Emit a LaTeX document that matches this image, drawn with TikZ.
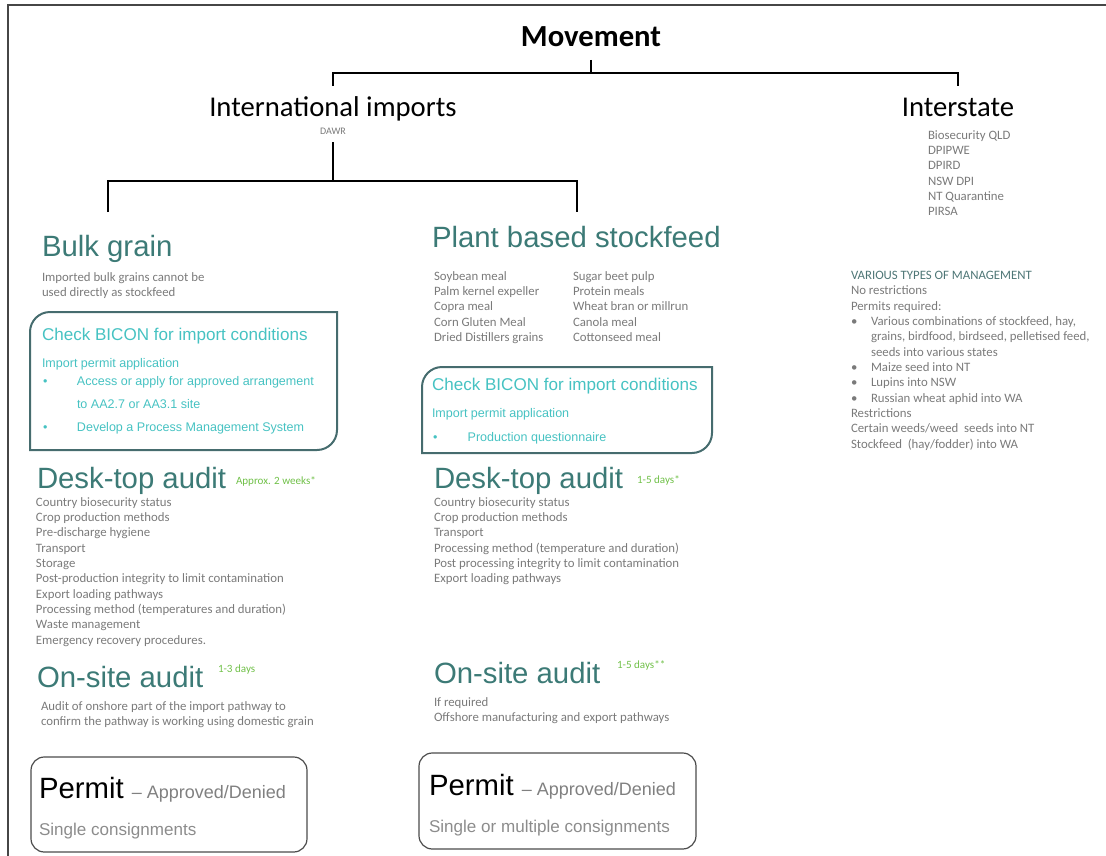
\documentclass[tikz,border=0pt]{standalone}
\usepackage{fontspec}
\setmainfont{Carlito}
\newfontfamily\arialfont{Liberation Sans}
\usetikzlibrary{positioning, fit}

\definecolor{headteal}{RGB}{60,122,118}
\definecolor{bicon}{RGB}{70,194,194}
\definecolor{boxteal}{RGB}{70,108,110}
\definecolor{greytext}{RGB}{122,122,122}
\definecolor{timegreen}{RGB}{112,192,72}
\definecolor{mgmtteal}{RGB}{78,118,118}
\definecolor{permitgrey}{RGB}{75,75,75}
\definecolor{framegrey}{RGB}{70,70,70}

\begin{document}
\begin{tikzpicture}[x=0.75pt, y=-0.75pt,
  every node/.style={inner sep=0pt, outer sep=0pt},
  bigtitle/.style={font=\bfseries\fontsize{23}{27}\selectfont, anchor=base},
  branch/.style={font=\fontsize{21.5}{25}\selectfont, anchor=base},
  agency/.style={font=\fontsize{7.5}{9}\selectfont, text=greytext, anchor=base},
  heading/.style={font=\arialfont\fontsize{22}{26}\selectfont, text=headteal, anchor=base west},
  small/.style={font=\fontsize{9.6}{11.5}\selectfont, text=greytext, align=left,
    anchor=north west, yshift=8pt, execute at begin node={\rule{0pt}{8pt}}},
  timing/.style={font=\fontsize{8.3}{10}\selectfont, text=timegreen, anchor=base west},
  bracket/.style={line width=1.9pt, black},
  bicontitle/.style={font=\arialfont\fontsize{12.8}{15}\selectfont, text=bicon, anchor=base west},
  bicontext/.style={font=\arialfont\fontsize{9.4}{17.3}\selectfont, text=bicon, align=left,
    anchor=north west, yshift=10pt, execute at begin node={\rule{0pt}{10pt}}},
  biconline/.style={line width=1.5pt, draw=boxteal},
  permitbox/.style={draw=permitgrey, line width=0.9pt, rounded corners=10pt},
  permittitle/.style={font=\arialfont\fontsize{22}{26}\selectfont, anchor=base west},
  permitnote/.style={font=\arialfont\fontsize{12.8}{15}\selectfont, text=black!45, anchor=base west}]

  \useasboundingbox (0,0) rectangle (1106,856);
  \draw[framegrey, line width=1.1pt] (8,856) -- (8,5) -- (1106,5);

  % top of the tree
  \node[bigtitle] (move) at (591,47) {Movement};
  \node[branch] (intl) at (333,117) {International imports};
  \node[agency] (dawr) at (333,134) {DAWR};
  \node[branch] (inter) at (958,117) {Interstate};
  \node[small] (agencies) at (928,141) {Biosecurity QLD\\DPIPWE\\DPIRD\\NSW DPI\\NT Quarantine\\PIRSA};

  \coordinate (mvtick) at (591,60);
  \coordinate (intltop) at (333,86);
  \coordinate (intertop) at (958,86);
  \draw[bracket] (mvtick) -- ++(0,13) coordinate (mvjoin);
  \draw[bracket] (intltop) |- (mvjoin) -| (intertop);

  \coordinate (dawrlow) at (333,142);
  \coordinate (bulktop) at (108,212);
  \coordinate (planttop) at (577,212);
  \draw[bracket] (dawrlow) -- ++(0,39) coordinate (intjoin);
  \draw[bracket] (bulktop) |- (intjoin) -| (planttop);

  % bulk grain
  \node[heading] (bulk) at (42,256) {Bulk grain};
  \node[small] (bulknote) at (42,283) {Imported bulk grains cannot be\\used directly as stockfeed};

  \coordinate (b1a) at (30,312);
  \coordinate (b1b) at (337,450);
  \node[fit=(b1a)(b1b)] (bicon1) {};
  \draw[biconline] (bicon1.west) [rounded corners=15pt] -- (bicon1.north west) -- (bicon1.north)
    [sharp corners] -- (bicon1.north east) -- (bicon1.east)
    [rounded corners=15pt] -- (bicon1.south east) -- (bicon1.south)
    [sharp corners] -- (bicon1.south west) -- cycle;
  \node[bicontitle] (check1) at (42,340) {Check BICON for import conditions};
  \node[bicontext] (apply1) at (42,367) {Import permit application};
  \node[bicontext] (steps1) at (43,390) {\makebox[25.5pt][l]{\textbullet}Access or apply for approved arrangement\\
    \hspace*{25.5pt}to AA2.7 or AA3.1 site\\
    \makebox[25.5pt][l]{\textbullet}Develop a Process Management System};

  \node[heading] (desk1) at (37,488) {Desk-top audit};
  \node[timing] (desktime1) at (236,484) {Approx. 2 weeks*};
  \node[small] (desklist1) at (36,508) {Country biosecurity status\\Crop production methods\\Pre-discharge hygiene\\Transport\\Storage\\Post-production integrity to limit contamination\\Export loading pathways\\Processing method (temperatures and duration)\\Waste management\\Emergency recovery procedures.};

  \node[heading] (site1) at (37,687) {On-site audit};
  \node[timing] (sitetime1) at (218,672) {1-3 days};
  \node[small] (sitenote1) at (41,712) {Audit of onshore part of the import pathway to\\confirm the pathway is working using domestic grain};

  \coordinate (p1a) at (31,757);
  \coordinate (p1b) at (307,852);
  \node[permitbox, fit=(p1a)(p1b)] (permitbox1) {};
  \node[permittitle] (permit1) at (39,798) {Permit \textcolor{black!50}{\fontsize{13.5}{16}\selectfont \textendash{} Approved/Denied}};
  \node[permitnote] (consign1) at (39,835) {Single consignments};

  % plant based stockfeed
  \node[heading] (plant) at (432,247) {Plant based stockfeed};
  \node[small] (feedsA) at (434,282) {Soybean meal\\Palm kernel expeller\\Copra meal\\Corn Gluten Meal\\Dried Distillers grains};
  \node[small] (feedsB) at (573,282) {Sugar beet pulp\\Protein meals\\Wheat bran or millrun\\Canola meal\\Cottonseed meal};

  \coordinate (b2a) at (422,367);
  \coordinate (b2b) at (712,453);
  \node[fit=(b2a)(b2b)] (bicon2) {};
  \draw[biconline] (bicon2.west) [rounded corners=15pt] -- (bicon2.north west) -- (bicon2.north)
    [sharp corners] -- (bicon2.north east) -- (bicon2.east)
    [rounded corners=15pt] -- (bicon2.south east) -- (bicon2.south)
    [sharp corners] -- (bicon2.south west) -- cycle;
  \node[bicontitle] (check2) at (432,390) {Check BICON for import conditions};
  \node[bicontext] (apply2) at (432,417) {Import permit application};
  \node[bicontext] (steps2) at (433,441) {\makebox[26pt][l]{\textbullet}Production questionnaire};

  \node[heading] (desk2) at (434,488) {Desk-top audit};
  \node[timing] (desktime2) at (637,483) {1-5 days*};
  \node[small] (desklist2) at (434,508) {Country biosecurity status\\Crop production methods\\Transport\\Processing method (temperature and duration)\\Post processing integrity to limit contamination\\Export loading pathways};

  \node[heading] (site2) at (434,683) {On-site audit};
  \node[timing] (sitetime2) at (617,668) {1-5 days**};
  \node[small] (sitenote2) at (434,708) {If required\\Offshore manufacturing and export pathways};

  \coordinate (p2a) at (419,753);
  \coordinate (p2b) at (696,849);
  \node[permitbox, fit=(p2a)(p2b)] (permitbox2) {};
  \node[permittitle] (permit2) at (429,795) {Permit \textcolor{black!50}{\fontsize{13.5}{16}\selectfont \textendash{} Approved/Denied}};
  \node[permitnote] (consign2) at (429,832) {Single or multiple consignments};

  % interstate management
  \node[small] (mgmt) at (851,282) {\textcolor{mgmtteal}{VARIOUS TYPES OF MANAGEMENT}\\No restrictions\\Permits required:\\
    \makebox[15pt][l]{\textbullet}Various combinations of stockfeed, hay,\\
    \hspace*{15pt}grains, birdfood, birdseed, pelletised feed,\\
    \hspace*{15pt}seeds into various states\\
    \makebox[15pt][l]{\textbullet}Maize seed into NT\\
    \makebox[15pt][l]{\textbullet}Lupins into NSW\\
    \makebox[15pt][l]{\textbullet}Russian wheat aphid into WA\\
    Restrictions\\Certain weeds/weed\ \ seeds into NT\\Stockfeed\ \ (hay/fodder) into WA};
\end{tikzpicture}
\end{document}
